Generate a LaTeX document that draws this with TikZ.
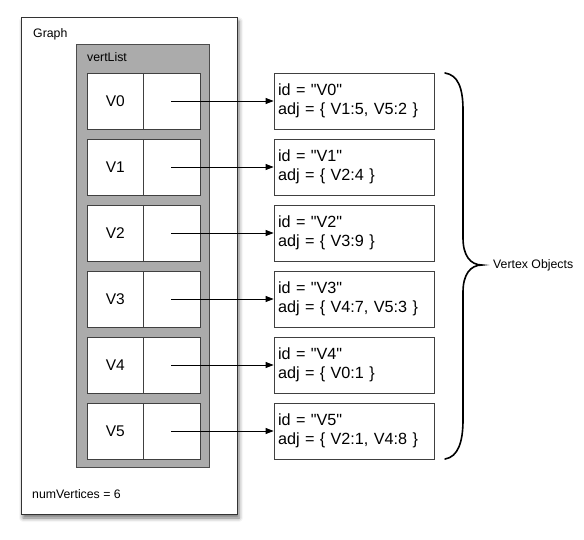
\documentclass[tikz,border=0pt]{standalone}
\usepackage{fontspec}
\setmainfont{Liberation Sans}[Ligatures=TeXOff]
\usetikzlibrary{arrows.meta,shadows.blur}
\begin{document}
\begin{tikzpicture}[x=1pt,y=-1pt,
  smalltxt/.style={font=\fontsize{12.3}{14}\selectfont, inner sep=0pt},
  cellbox/.style={draw=black!75, fill=white, line width=0.8pt, minimum width=56.5pt, minimum height=56pt, inner sep=0pt, font=\fontsize{15.5}{18}\selectfont},
  objbox/.style={draw=black!75, fill=white, line width=0.8pt, minimum width=160pt, minimum height=56pt, inner sep=0pt, text width=152pt, align=left, font=\fontsize{16.2}{19.5}\selectfont},
  ptr/.style={line width=0.8pt, -{Triangle[length=8pt,width=6pt]}}
]
\useasboundingbox (0,0) rectangle (584,539);
% Graph box
\node[draw=black!80, line width=1pt, fill=white, minimum width=216pt, minimum height=497pt, inner sep=0pt,
  blur shadow={shadow xshift=2pt, shadow yshift=-4pt, shadow blur radius=4pt, shadow opacity=55}]
  (graph) at (129,265.5) {};
\node[smalltxt, anchor=base west] (graphlbl) at (33,37) {Graph};
% vertList
\node[draw=black!70, line width=0.8pt, fill=black!33, minimum width=133pt, minimum height=423pt, inner sep=0pt]
  (vlist) at (142.5,255.5) {};
\node[smalltxt, anchor=base west] (vllbl) at (87,61) {vertList};
\node[smalltxt, anchor=base west] (numv) at (32,498) {numVertices = 6};
% rows
\foreach \i/\adj in {0/{V1:5, V5:2},1/{V2:4},2/{V3:9},3/{V4:7, V5:3},4/{V0:1},5/{V2:1, V4:8}}{
  \pgfmathsetmacro{\yy}{101+66*\i}
  \node[cellbox] (c\i) at (115.25,\yy) {V\i};
  \node[cellbox] (p\i) at (171.75,\yy) {};
  \node[objbox] (o\i) at (354,\yy) {id = "V\i"\\adj = \{ \adj\ \}};
  \coordinate (s\i) at (171,\yy);
  \draw[ptr] (s\i) -- (o\i.west);
}
% brace
\coordinate (bt) at (445,73);
\coordinate (bb) at (445,459);
\coordinate (tip) at (482,265);
\draw[line width=1.6pt, line cap=round]
  (bt) .. controls (458,75) and (463,88) .. (463,110) -- (463,238)
  .. controls (463,255) and (470,265) .. (tip)
  .. controls (470,265) and (463,275) .. (463,292) -- (463,420)
  .. controls (463,442) and (458,457) .. (bb);
\node[smalltxt, anchor=base west] (vo) at (493,268) {Vertex Objects};
\end{tikzpicture}
\end{document}
